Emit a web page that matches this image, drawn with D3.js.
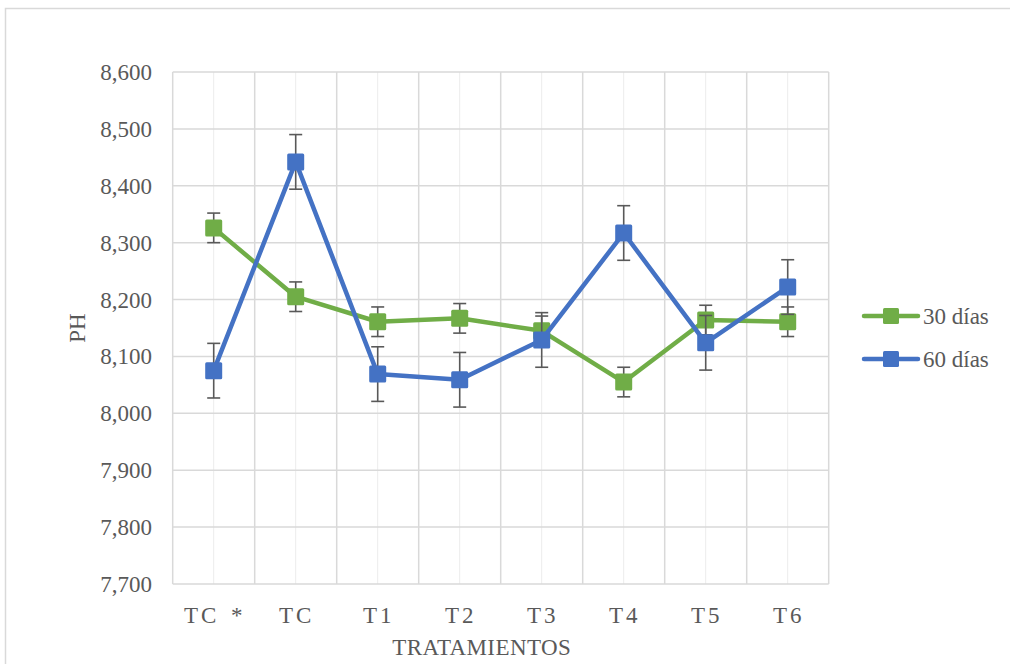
<!DOCTYPE html>
<html>
<head>
<meta charset="utf-8">
<script src="https://cdn.jsdelivr.net/npm/d3@7"></script>
<style>
  html, body { margin: 0; padding: 0; background: #fff; }
  svg { display: block; }
</style>
</head>
<body>
<svg id="chart" width="1010" height="664"></svg>
<script>
// Treatments on the x axis
const categories = ["TC *", "TC", "T1", "T2", "T3", "T4", "T5", "T6"];
// Mean pH at 30 and 60 days
const ph30 = [8.326, 8.205, 8.161, 8.167, 8.145, 8.055, 8.164, 8.161];
const ph60 = [8.075, 8.442, 8.069, 8.059, 8.129, 8.317, 8.124, 8.222];
// Error bar half-widths
const err30 = [0.026, 0.026, 0.026, 0.026, 0.026, 0.026, 0.026, 0.026];
const err60 = [0.048, 0.048, 0.048, 0.048, 0.048, 0.048, 0.048, 0.048];
// Y axis ticks
const yTicks = [7.7, 7.8, 7.9, 8.0, 8.1, 8.2, 8.3, 8.4, 8.5, 8.6];
const seriesNames = ["30 días", "60 días"];

const FONT = "'Liberation Serif', 'Times New Roman', serif";
const TEXT_COLOR = "#595959";

const svg = d3.select("#chart")
  .attr("font-family", FONT);
const plotLeft = 172.7, plotRight = 828.7, plotTop = 72, plotBottom = 584;

const x = d3.scaleBand().domain(categories).range([plotLeft, plotRight]).paddingInner(0).paddingOuter(0);
const y = d3.scaleLinear().domain([7.7, 8.6]).range([plotBottom, plotTop]);
const cx = c => x(c) + x.bandwidth() / 2;

// Shared text styling
const styleText = sel => sel
  .attr("font-family", FONT)
  .style("font-family", FONT)
  .style("font-size", "23px")
  .attr("fill", TEXT_COLOR);

// Outer chart frame
svg.append("path")
  .attr("d", "M5.5,664 V8.5 H1010")
  .attr("fill", "none").attr("stroke", "#d9d9d9").attr("stroke-width", 1.5);

// Minor vertical gridlines at category centres
svg.append("g").selectAll("line").data(categories).join("line")
  .attr("x1", d => cx(d)).attr("x2", d => cx(d))
  .attr("y1", plotTop).attr("y2", plotBottom)
  .attr("stroke", "#ececec").attr("stroke-width", 1);

// Major vertical gridlines at category boundaries
const bounds = categories.map(c => x(c)).concat([plotRight]);
svg.append("g").selectAll("line").data(bounds).join("line")
  .attr("x1", d => d).attr("x2", d => d)
  .attr("y1", plotTop).attr("y2", plotBottom)
  .attr("stroke", "#d9d9d9").attr("stroke-width", 1.5);

// Horizontal gridlines
svg.append("g").selectAll("line").data(yTicks).join("line")
  .attr("x1", plotLeft).attr("x2", plotRight)
  .attr("y1", d => y(d)).attr("y2", d => y(d))
  .attr("stroke", "#d9d9d9").attr("stroke-width", 1.5);

// Y axis labels
const fmt = d => d3.format(".3f")(d).replace(".", ",");
svg.append("g").selectAll("text").data(yTicks).join("text")
  .attr("x", 152).attr("y", d => y(d) + 8)
  .attr("text-anchor", "end")
  .call(styleText)
  .text(fmt);

// X axis labels
svg.append("g").selectAll("text").data(categories).join("text")
  .attr("x", d => cx(d) + 1).attr("y", 623)
  .attr("text-anchor", "middle")
  .call(styleText)
  .style("letter-spacing", "3px")
  .style("word-spacing", "3px")
  .text(d => d);

// Axis titles
svg.append("text")
  .attr("x", (plotLeft + plotRight) / 2 - 19).attr("y", 655)
  .attr("text-anchor", "middle")
  .call(styleText)
  .style("letter-spacing", "0.4px")
  .text("TRATAMIENTOS");

svg.append("text")
  .attr("transform", `translate(85,${(plotTop + plotBottom) / 2}) rotate(-90)`)
  .attr("text-anchor", "middle")
  .call(styleText)
  .text("PH");

const colors = ["#70ad47", "#4472c4"];
const series = [
  { name: seriesNames[0], values: ph30, errs: err30, color: colors[0] },
  { name: seriesNames[1], values: ph60, errs: err60, color: colors[1] }
];

const line = d3.line().x(d => cx(d.c)).y(d => y(d.v));
const msize = 17, cap = 6.5;

series.forEach(s => {
  const pts = categories.map((c, i) => ({ c, v: s.values[i], e: s.errs[i] }));
  const g = svg.append("g");
  // error bars
  const eb = g.append("g").attr("stroke", "#595959").attr("stroke-width", 1.6);
  pts.forEach(p => {
    const px = cx(p.c), y1 = y(p.v + p.e), y2 = y(p.v - p.e);
    eb.append("line").attr("x1", px).attr("x2", px).attr("y1", y1).attr("y2", y2);
    eb.append("line").attr("x1", px - cap).attr("x2", px + cap).attr("y1", y1).attr("y2", y1);
    eb.append("line").attr("x1", px - cap).attr("x2", px + cap).attr("y1", y2).attr("y2", y2);
  });
  g.append("path").datum(pts)
    .attr("d", line)
    .attr("fill", "none").attr("stroke", s.color)
    .attr("stroke-width", 4.5).attr("stroke-linejoin", "round").attr("stroke-linecap", "round");
  g.selectAll("rect").data(pts).join("rect")
    .attr("x", d => cx(d.c) - msize / 2).attr("y", d => y(d.v) - msize / 2)
    .attr("width", msize).attr("height", msize)
    .attr("rx", 1.5)
    .attr("fill", s.color);
});

// Legend
const legend = svg.append("g");
series.forEach((s, i) => {
  const ly = 316 + i * 43;
  legend.append("line")
    .attr("x1", 864).attr("x2", 918).attr("y1", ly).attr("y2", ly)
    .attr("stroke", s.color).attr("stroke-width", 4.5).attr("stroke-linecap", "round");
  legend.append("rect")
    .attr("x", 891 - 8).attr("y", ly - 8).attr("width", 16).attr("height", 16)
    .attr("rx", 1.5).attr("fill", s.color);
  legend.append("text")
    .attr("x", 923).attr("y", ly + 8)
    .call(styleText)
    .text(s.name);
});
</script>
</body>
</html>
